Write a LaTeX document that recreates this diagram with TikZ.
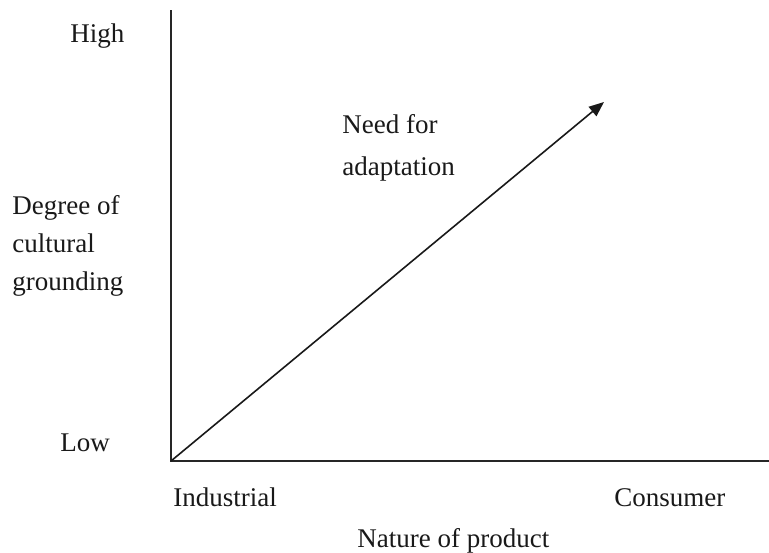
\documentclass[tikz,border=0pt]{standalone}
\usepackage{fontspec}
\setmainfont{Liberation Serif}
\usepackage{tikz}
\usetikzlibrary{arrows.meta,positioning}

\begin{document}
\begin{tikzpicture}[
    x=0.5pt, y=-0.5pt,
    label/.style={anchor=base west, inner sep=0pt, font=\fontsize{13.5}{16}\selectfont, text=black!90},
    axis/.style={draw=black!85, line width=1pt},
    arrow/.style={-{Triangle[length=7.5pt,width=6pt]}, draw=black!90, line width=0.8pt}
]
    \useasboundingbox (0,0) rectangle (769,552);

    % Axes
    \coordinate (origin) at (171,461);
    \coordinate (ytop) at (171,10);
    \coordinate (xend) at (769,461);
    \coordinate (tip) at (604,102);

    \draw[axis] (ytop) -- (origin) -- (xend);

    % Vertical axis labels
    \node[label] (high) at (70,42) {High};
    \node[label] (degree) at (12,214) {Degree of};
    \node[label] (cultural) at (12,252) {cultural};
    \node[label] (grounding) at (12,290) {grounding};
    \node[label] (low) at (60,451) {Low};

    % Horizontal axis labels
    \node[label] (industrial) at (173,506) {Industrial};
    \node[label] (consumer) at (614,506) {Consumer};
    \node[label] (nature) at (357,547) {Nature of product};

    % Arrow and its label
    \node[label] (need) at (342,133) {Need for};
    \node[label] (adapt) at (342,175) {adaptation};

    \draw[arrow] (origin) -- (tip);

\end{tikzpicture}
\end{document}
